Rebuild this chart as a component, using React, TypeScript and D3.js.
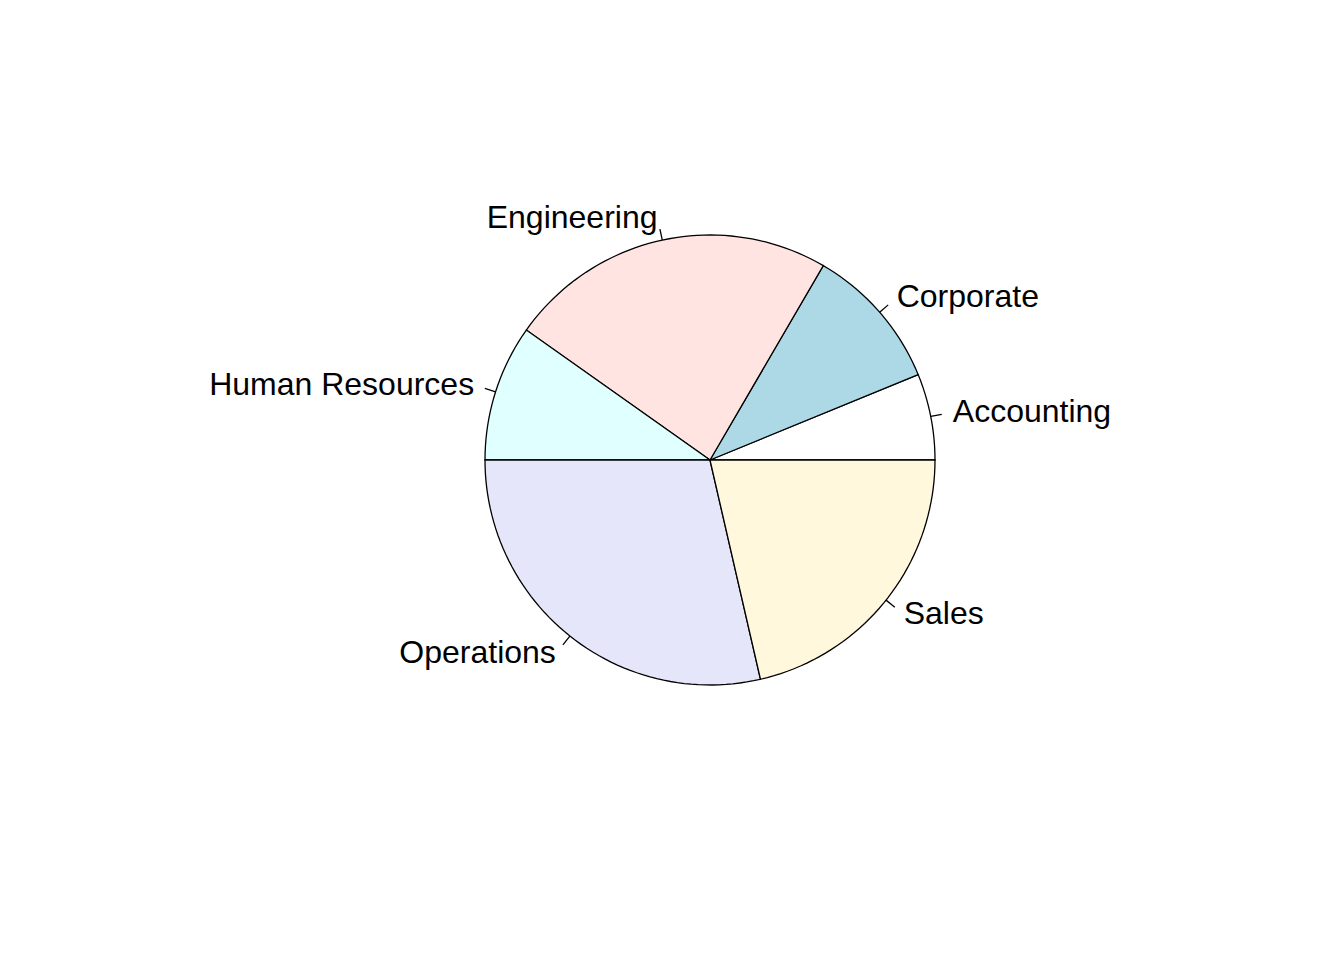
import React from "react";
import * as d3 from "d3";

const categories = ["Accounting", "Corporate", "Engineering", "Human Resources", "Operations", "Sales"];
const values = [62, 104, 236, 98, 286, 214];
const colors = ["white", "lightblue", "mistyrose", "lightcyan", "lavender", "cornsilk"];

const W = 1344;
const H = 960;
const cx = 710;
const cy = 460;
const R = 225;

export default function App() {
  const total = d3.sum(values);
  const angle = d3.scaleLinear().domain([0, total]).range([0, 2 * Math.PI]);
  const cum = d3.cumsum(values);
  const slices = values.map((v, i) => {
    const a0 = angle(cum[i] - v);
    const a1 = angle(cum[i]);
    return { a0, a1, i };
  });
  const pt = (a: number, r: number) => [cx + r * Math.cos(a), cy - r * Math.sin(a)];
  const arcPath = (a0: number, a1: number) => {
    const n = Math.max(2, Math.ceil(((a1 - a0) / (2 * Math.PI)) * 200));
    const pts: number[][] = [[cx, cy]];
    for (let k = 0; k <= n; k++) pts.push(pt(a0 + ((a1 - a0) * k) / n, R));
    return d3.line()(pts as [number, number][]) + "Z";
  };
  return (
    <svg width={W} height={H} style={{ display: "block", position: "absolute", left: 0, top: 0 }}>
      <rect width={W} height={H} fill="white" />
      {slices.map((s) => (
        <path key={s.i} d={arcPath(s.a0, s.a1)} fill={colors[s.i]} stroke="black" strokeWidth={1.3} />
      ))}
      {slices.map((s) => {
        const m = (s.a0 + s.a1) / 2;
        const [x1, y1] = pt(m, R);
        const [x2, y2] = pt(m, R * 1.05);
        const [tx, ty] = pt(m, R * 1.1);
        const left = Math.cos(m) < 0;
        return (
          <g key={"l" + s.i}>
            <line x1={x1} y1={y1} x2={x2} y2={y2} stroke="black" strokeWidth={1.3} />
            <text
              x={tx}
              y={ty}
              dy="0.3em"
              textAnchor={left ? "end" : "start"}
              fontFamily="Arial, 'Liberation Sans', sans-serif"
              fontSize={32}
              fill="black"
            >
              {categories[s.i]}
            </text>
          </g>
        );
      })}
    </svg>
  );
}
